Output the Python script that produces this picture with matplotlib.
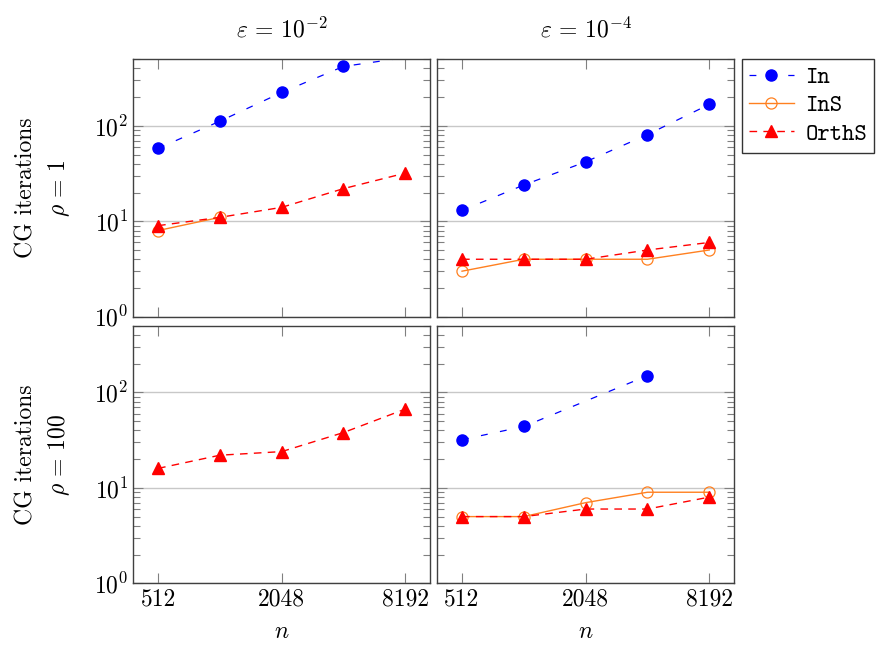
import matplotlib
matplotlib.use('Agg')
import matplotlib.pyplot as plt
import numpy as np
from matplotlib.ticker import LogLocator, FixedLocator, NullFormatter, NullLocator

plt.rcParams['font.family'] = 'serif'
plt.rcParams['font.serif'] = ['cmr10', 'DejaVu Serif']
plt.rcParams['mathtext.fontset'] = 'cm'
plt.rcParams['axes.formatter.use_mathtext'] = True
plt.rcParams['axes.unicode_minus'] = False

# problem sizes
n = [512, 1024, 2048, 4096, 8192]
xticks = [512, 2048, 8192]

# iterations, eps = 1e-2 / 1e-4, rho = 1 / 100  (None = not shown)
in_e2_r1 = [58, 112, 224, 420, 520]
ins_e2_r1 = [8, 11, None, None, None]
orths_e2_r1 = [9, 11, 14, 22, 32]

in_e4_r1 = [13, 24, 42, 81, 168]
ins_e4_r1 = [3, 4, 4, 4, 5]
orths_e4_r1 = [4, 4, 4, 5, 6]

in_e2_r100 = [None, None, None, None, None]
ins_e2_r100 = [None, None, None, None, None]
orths_e2_r100 = [16, 22, 24, 38, 67]

in_e4_r100 = [32, 44, None, 150, None]
ins_e4_r100 = [5, 5, 7, 9, 9]
orths_e4_r100 = [5, 5, 6, 6, 8]

titles = [r'$\varepsilon\,=\,10^{-2}$', r'$\varepsilon\,=\,10^{-4}$']
rows = [r'$\rho\,=\,1$', r'$\rho\,=\,100$']

panels = [[(in_e2_r1, ins_e2_r1, orths_e2_r1), (in_e4_r1, ins_e4_r1, orths_e4_r1)],
          [(in_e2_r100, ins_e2_r100, orths_e2_r100), (in_e4_r100, ins_e4_r100, orths_e4_r100)]]

FS = 17
YMAX = 500
fig = plt.figure(figsize=(8.79, 6.45), dpi=100)
lefts = [0.1517, 0.4975]
bottoms = [0.509, 0.0957]
w, h = 0.3375, 0.3992

def xy(vals):
    pts = [(x, v) for x, v in zip(n, vals) if v is not None]
    return [p[0] for p in pts], [p[1] for p in pts]

def shown(ys):
    # markers beyond the y range are not drawn
    return [i for i, v in enumerate(ys) if v <= YMAX]

handles = None
for r in range(2):
    for c in range(2):
        ax = fig.add_axes([lefts[c], bottoms[r], w, h])
        d_in, d_ins, d_orths = panels[r][c]
        x, y = xy(d_in)
        h1, = ax.plot(x, y, color='#0000ff', lw=0.9, marker='o', ms=8,
                      dashes=(5.5, 10), label='In', markevery=shown(y))
        x, y = xy(d_ins)
        h2, = ax.plot(x, y, color='#ff8020', lw=1.0, marker='o', ms=8,
                      mfc='none', mec='#ff8020', mew=0.9, label='InS')
        x, y = xy(d_orths)
        h3, = ax.plot(x, y, color='#ff0000', lw=1.0, marker='^', ms=8,
                      dashes=(5.5, 4.5), label='OrthS')
        if handles is None:
            handles = [h1, h2, h3]
        ax.set_xscale('log', base=2)
        ax.set_yscale('log')
        ax.set_xlim(512 / 2 ** 0.4, 8192 * 2 ** 0.4)
        ax.set_ylim(1, YMAX)
        ax.xaxis.set_major_locator(FixedLocator(xticks))
        ax.xaxis.set_minor_locator(NullLocator())
        ax.set_xticklabels([str(t) for t in xticks])
        ax.yaxis.set_major_locator(LogLocator(base=10, numticks=10))
        ax.yaxis.set_minor_locator(LogLocator(base=10, subs=np.arange(2, 10), numticks=10))
        ax.yaxis.set_minor_formatter(NullFormatter())
        ax.grid(True, axis='y', which='major', color='#c8c8c8', lw=1.0)
        ax.set_axisbelow(True)
        ax.tick_params(which='both', direction='in', top=True, right=True,
                       color='#808080', labelsize=FS)
        ax.tick_params(which='major', length=7, width=0.8)
        ax.tick_params(which='minor', length=5, width=0.8)
        for s in ax.spines.values():
            s.set_color('#404040')
            s.set_linewidth(1.0)
        if r == 0:
            ax.tick_params(labelbottom=False)
            ax.set_title(titles[c], fontsize=FS, pad=16)
        else:
            ax.set_xlabel(r'$n$', fontsize=FS, labelpad=8)
        if c == 1:
            ax.tick_params(labelleft=False)
        else:
            ax.set_ylabel('CG iterations\n' + rows[r], fontsize=FS, labelpad=16,
                          linespacing=1.45)
        if r == 0 and c == 1:
            leg = ax.legend(handles=handles, loc='upper left', bbox_to_anchor=(1.026, 1.0),
                            prop={'family': 'cmtt10', 'size': FS},
                            frameon=True, fancybox=False, edgecolor='black',
                            handlelength=1.9, handletextpad=0.5, borderpad=0.3,
                            labelspacing=0.25, borderaxespad=0)
            leg.get_frame().set_linewidth(1.0)

fig.savefig('out.png', dpi=100)
